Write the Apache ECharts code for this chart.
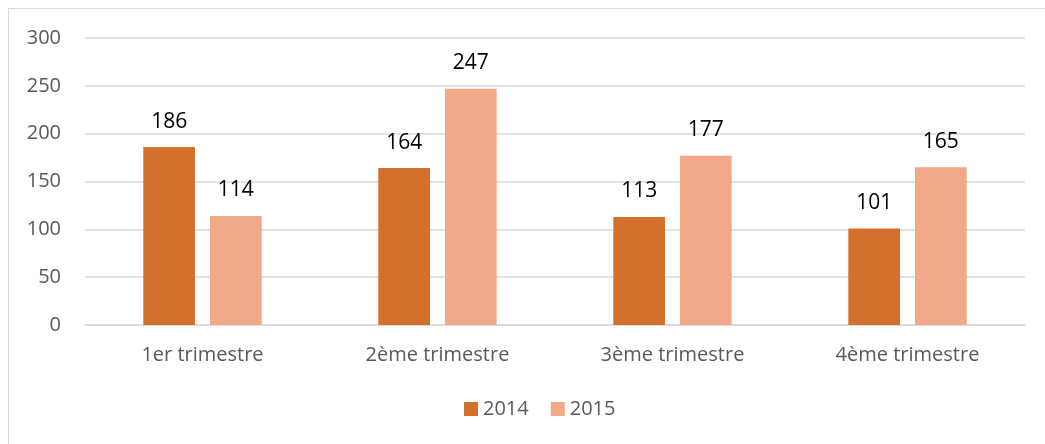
<!DOCTYPE html>
<html>
<head>
<meta charset="utf-8">
<script src="https://cdn.jsdelivr.net/npm/echarts@6/dist/echarts.min.js"></script>
<style>
    html, body { margin: 0; padding: 0; background: #fff; }
    .frame {
        position: absolute;
        left: 8px;
        top: 8px;
        width: 1045px;
        height: 444px;
        border: 1px solid #d9d9d9;
        box-sizing: border-box;
    }
    #chart { width: 1045px; height: 444px; }
</style>
</head>
<body>
<div class="frame"></div>
<div id="chart"></div>
<script>
// données
const categories = ['1er trimestre', '2ème trimestre', '3ème trimestre', '4ème trimestre'];
const values2014 = [186, 164, 113, 101];
const values2015 = [114, 247, 177, 165];
const yTicks = [0, 50, 100, 150, 200, 250, 300];

let myChart = echarts.init(document.getElementById('chart'));

const labelStyle = {
    show: true,
    position: 'top',
    distance: 15,
    color: '#000000',
    fontFamily: 'Open Sans',
    fontSize: 21
};

myChart.setOption({
    animation: false,
    grid: {
        left: 85,
        right: 20,
        top: 38,
        bottom: 119
    },
    legend: {
        bottom: 20,
        left: 459,
        itemWidth: 14,
        itemHeight: 14,
        itemGap: 22,
        icon: 'rect',
        textStyle: {
            color: '#595959',
            fontFamily: 'Open Sans',
            fontSize: 20
        }
    },
    xAxis: {
        type: 'category',
        data: categories,
        axisTick: { show: false },
        axisLine: { lineStyle: { color: '#d9d9d9', width: 1.5 } },
        axisLabel: {
            color: '#595959',
            fontFamily: 'Open Sans',
            fontSize: 20,
            margin: 20
        }
    },
    yAxis: {
        type: 'value',
        min: yTicks[0],
        max: yTicks[yTicks.length - 1],
        interval: 50,
        axisLine: { show: false },
        axisTick: { show: false },
        splitLine: { lineStyle: { color: '#d9d9d9', width: 1.5 } },
        axisLabel: {
            color: '#595959',
            fontFamily: 'Open Sans',
            fontSize: 20,
            margin: 24
        }
    },
    series: [
        {
            name: '2014',
            type: 'bar',
            data: values2014,
            barWidth: '22%',
            barGap: '29%',
            itemStyle: { color: '#D4702C' },
            label: labelStyle
        },
        {
            name: '2015',
            type: 'bar',
            data: values2015,
            barWidth: '22%',
            itemStyle: { color: '#F2A98A' },
            label: labelStyle
        }
    ]
});
</script>
</body>
</html>
